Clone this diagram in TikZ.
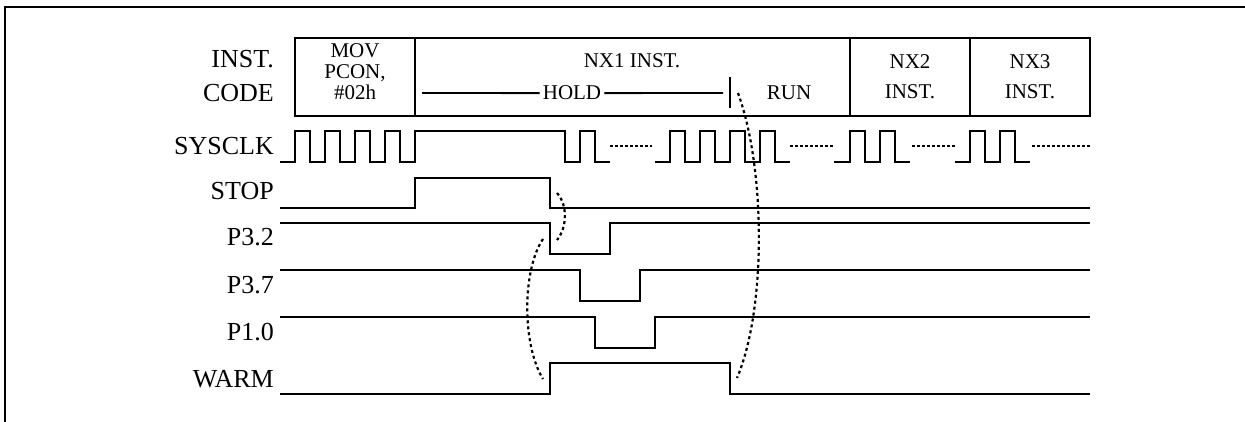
\documentclass[tikz,border=0pt]{standalone}
\usepackage{fontspec}
\setmainfont{Liberation Serif}
\usetikzlibrary{calc}

\begin{document}
\begin{tikzpicture}
    [x=1pt, y=-1pt,
    signame/.style={anchor=base east, inner sep=0pt, font=\fontsize{26}{33}\selectfont},
    boxtext/.style={anchor=base, inner sep=0pt, align=center, font=\fontsize{21}{21}\selectfont},
    wave/.style={line width=2.4pt, line join=miter},
    gap/.style={line width=1.8pt, dash pattern=on 2.5pt off 2.5pt},
    hint/.style={line width=2.2pt, dash pattern=on 3pt off 3pt}]
    \useasboundingbox (0,0) rectangle (1245,422);
    % frame
    \draw[line width=2.8pt] (5,422) -- (5,7) -- (1245,7);
    % instruction code row
    \draw[line width=2.2pt] (295,38) rectangle (1090,116);
    \foreach \x in {415,850,970}{
        \draw[line width=2.2pt] (\x,38) -- (\x,116);
    }
    \node(mov)[boxtext] at (355,100) {MOV\\PCON,\\\#02h};
    \node(nx1)[boxtext] at (632,68) {NX1 INST.};
    \node(hold)[boxtext, inner xsep=3pt] at (572,100) {HOLD};
    \node(run)[boxtext] at (789,100) {RUN};
    \node(nx2)[boxtext, font=\fontsize{21}{30}\selectfont] at (910,99) {NX2\\INST.};
    \node(nx3)[boxtext, font=\fontsize{21}{30}\selectfont] at (1030,99) {NX3\\INST.};
    \coordinate (holdL) at (422,93);
    \coordinate (holdR) at (723,93);
    \draw[line width=1.8pt] (holdL) -- (hold.west);
    \draw[line width=1.8pt] (hold.east) -- (holdR);
    \draw[line width=2.2pt] (730,77) -- (730,108);
    % signal names
    \foreach \n/\t/\y in {inst/INST./68, code/CODE/102, sysclk/SYSCLK/155, stop/STOP/200,
        pthreetwo/P3.2/246, pthreeseven/P3.7/293, poneo/P1.0/340, warm/WARM/387}{
        \node(lbl-\n)[signame] at (274,\y) {\t};
    }
    % SYSCLK
    \draw[wave] (280,162) foreach \p in {295,325,355,385}{ -- (\p,162) -- (\p,131) -- (\p+15,131) -- (\p+15,162) }
        -- (415,162) -- (415,131) -- (565,131) -- (565,162) -- (580,162) -- (580,131) -- (595,131) -- (595,162) -- (610,162);
    \foreach \s/\e/\ps in {655/790/{670,700,730,760}, 834/910/{850,880}, 955/1030/{970,1000}}{
        \draw[wave] (\s,162) foreach \p in \ps { -- (\p,162) -- (\p,131) -- (\p+15,131) -- (\p+15,162) } -- (\e,162);
    }
    \foreach \a/\b in {610/652, 790/833, 912/956, 1032/1090}{
        \draw[gap] (\a,146) -- (\b,146);
    }
    % STOP, P3.2, P3.7, P1.0, WARM
    \foreach \idle/\act/\a/\b in {208/178/415/550, 223/254/550/610, 270/301/580/640, 317/348/595/655, 394/363/550/730}{
        \draw[wave] (280,\idle) -- (\a,\idle) -- (\a,\act) -- (\b,\act) -- (\b,\idle) -- (1090,\idle);
    }
    % dotted hints
    \coordinate (stopfall) at (557,193);
    \coordinate (pfall) at (557,240);
    \coordinate (pfallL) at (543,239);
    \coordinate (warmrise) at (543,379);
    \coordinate (runstart) at (738,93);
    \coordinate (warmfall) at (737,378);
    \draw[hint] (stopfall) .. controls (568,205) and (567,228) .. (pfall);
    \draw[hint] (pfallL) .. controls (522,270) and (522,345) .. (warmrise);
    \draw[hint] (runstart) .. controls (766,170) and (766,310) .. (warmfall);
\end{tikzpicture}
\end{document}
